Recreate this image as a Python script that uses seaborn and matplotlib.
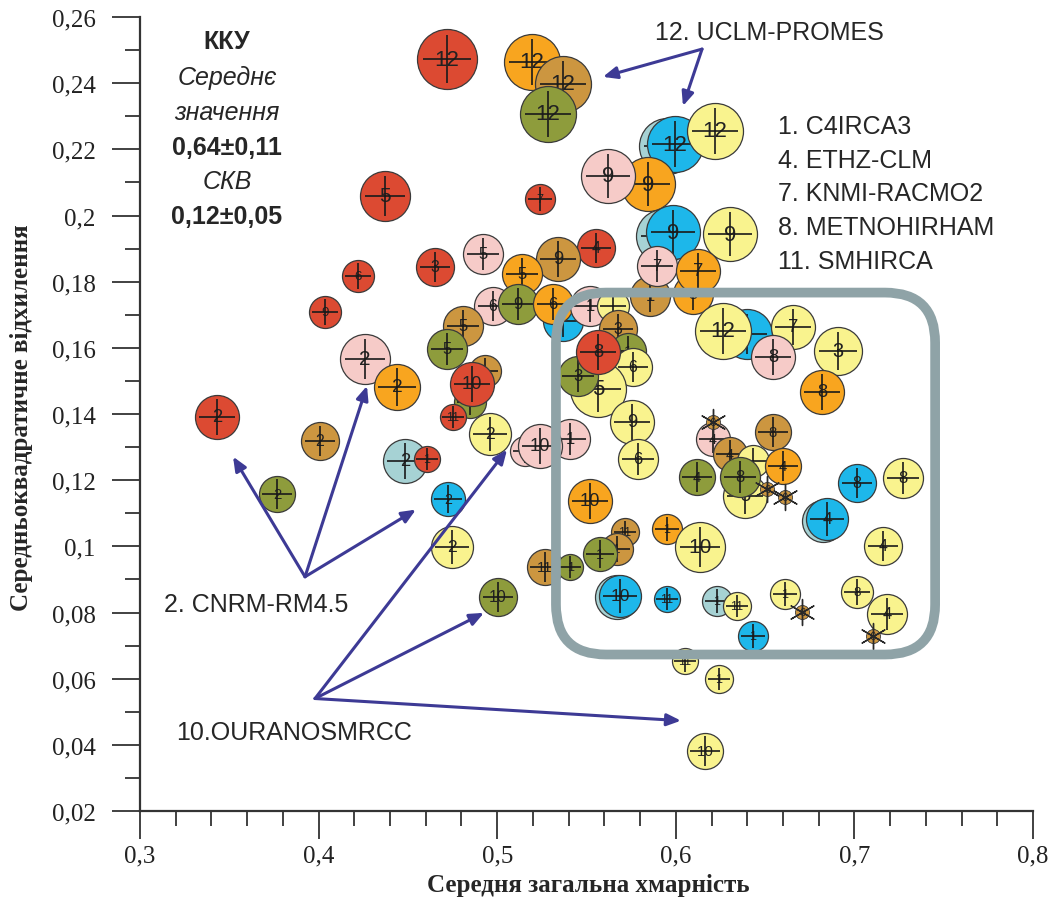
import matplotlib
matplotlib.use("Agg")
import matplotlib.pyplot as plt
from matplotlib.patches import FancyBboxPatch
from matplotlib.ticker import MultipleLocator, FuncFormatter
import pandas as pd
import seaborn as sns

# mean total cloudiness (x) vs RMS deviation (y); number = model id, colour = group
cloud = [0.4719, 0.5195, 0.5368, 0.5284, 0.5951, 0.5996, 0.6219, 0.5844, 0.5620,
         0.4372, 0.5240, 0.5928, 0.5984, 0.6303, 0.5553, 0.4920, 0.5340, 0.5139,
         0.4652, 0.4221, 0.4036, 0.5856, 0.6096, 0.5895, 0.6124, 0.5368, 0.4976,
         0.5116, 0.5312, 0.5520, 0.5648, 0.4808, 0.4719, 0.4260, 0.4439, 0.5676,
         0.5732, 0.5760, 0.5564, 0.5452, 0.5564, 0.4932, 0.4848, 0.4859, 0.4753,
         0.3431, 0.4008, 0.3767, 0.4484, 0.4607, 0.4960, 0.4725, 0.4747, 0.5004,
         0.5408, 0.5156, 0.5240, 0.6399, 0.6264, 0.6656, 0.6544, 0.6908, 0.6819,
         0.5755, 0.5788, 0.6208, 0.6303, 0.6432, 0.6544, 0.6600, 0.6119, 0.6387,
         0.6359, 0.5520, 0.7015, 0.7272, 0.6825, 0.6847, 0.7160, 0.5951, 0.5716,
         0.5671, 0.5576, 0.6135, 0.5268, 0.5408, 0.5671, 0.5688, 0.5951, 0.6231,
         0.6343, 0.6611, 0.7015, 0.7183, 0.6432, 0.6052, 0.6242, 0.6164]
rms = [0.2473, 0.2464, 0.2398, 0.2307, 0.2210, 0.2216, 0.2256, 0.2095, 0.2120,
       0.2059, 0.2050, 0.1938, 0.1950, 0.1944, 0.1902, 0.1884, 0.1869, 0.1824,
       0.1845, 0.1818, 0.1709, 0.1757, 0.1763, 0.1848, 0.1833, 0.1682, 0.1727,
       0.1733, 0.1733, 0.1727, 0.1727, 0.1667, 0.1597, 0.1567, 0.1482, 0.1657,
       0.1591, 0.1543, 0.1476, 0.1515, 0.1588, 0.1530, 0.1437, 0.1491, 0.1392,
       0.1392, 0.1319, 0.1159, 0.1259, 0.1265, 0.1340, 0.1144, 0.0999, 0.0848,
       0.1325, 0.1289, 0.1304, 0.1642, 0.1651, 0.1663, 0.1573, 0.1591, 0.1467,
       0.1376, 0.1265, 0.1325, 0.1280, 0.1259, 0.1346, 0.1244, 0.1210, 0.1153,
       0.1210, 0.1138, 0.1192, 0.1207, 0.1076, 0.1083, 0.1002, 0.1053, 0.1044,
       0.0993, 0.0978, 0.0999, 0.0938, 0.0938, 0.0846, 0.0851, 0.0842, 0.0836,
       0.0821, 0.0857, 0.0863, 0.0796, 0.0730, 0.0654, 0.0600, 0.0382]
model = ["12", "12", "12", "12", "", "12", "12", "9", "9",
         "5", "7", "", "9", "9", "4", "5", "9", "5",
         "3", "6", "9", "1", "5", "7", "7", "", "6",
         "9", "6", "1", "", "5", "5", "2", "2", "3",
         "1", "6", "5", "3", "8", "", "", "10", "11",
         "2", "2", "2", "2", "1", "2", "2", "2", "10",
         "1", "11", "10", "", "12", "7", "8", "3", "8",
         "9", "6", "4", "4", "", "8", "4", "4", "5",
         "8", "10", "8", "8", "", "4", "4", "1", "11",
         "1", "1", "10", "11", "1", "", "10", "11", "1",
         "11", "1", "8", "4", "1", "11", "1", "10"]
group = ["red", "orange", "tan", "olive", "teal", "cyan", "yellow", "orange", "pink",
         "red", "red", "teal", "cyan", "yellow", "red", "pink", "tan", "orange",
         "red", "red", "red", "tan", "orange", "pink", "orange", "cyan", "pink",
         "olive", "orange", "pink", "yellow", "tan", "olive", "pink", "orange", "tan",
         "olive", "yellow", "yellow", "olive", "red", "tan", "olive", "red", "red",
         "red", "tan", "olive", "teal", "red", "yellow", "cyan", "yellow", "olive",
         "pink", "pink", "pink", "cyan", "yellow", "yellow", "pink", "yellow", "orange",
         "yellow", "yellow", "pink", "tan", "yellow", "tan", "orange", "olive", "yellow",
         "olive", "orange", "cyan", "yellow", "teal", "cyan", "yellow", "orange", "tan",
         "tan", "olive", "yellow", "tan", "olive", "teal", "cyan", "cyan", "teal",
         "yellow", "yellow", "yellow", "yellow", "cyan", "yellow", "yellow", "yellow"]
bubble = [30, 28, 28, 28, 28, 28, 28, 27, 27,
          25, 15, 27, 27, 27, 19, 20, 22, 20,
          19, 16, 16, 20, 20, 20, 22, 20, 19,
          20, 20, 20, 16, 20, 20, 25, 23, 19,
          18, 19, 28, 20, 22, 16, 16, 22, 13,
          22, 19, 18, 22, 13, 21, 17, 21, 19,
          20, 15, 22, 25, 28, 22, 22, 24, 22,
          22, 20, 17, 17, 16, 18, 18, 18, 22,
          20, 22, 19, 20, 21, 21, 19, 15, 14,
          16, 17, 25, 18, 13, 22, 21, 13, 15,
          14, 15, 16, 20, 15, 13, 14, 18]

# small asterisk marks (no bubble)
star_cloud = [0.6208, 0.6511, 0.6611, 0.6707, 0.7104]
star_rms = [0.1376, 0.1174, 0.1150, 0.0802, 0.0730]
star_label = ["6", "6", "6", "6", "6"]

legend_models = ["1. C4IRCA3", "4. ETHZ-CLM", "7. KNMI-RACMO2",
                 "8. METNOHIRHAM", "11. SMHIRCA"]
info_lines = ["ККУ", "Середнє", "значення", "0,64±0,11", "СКВ", "0,12±0,05"]

palette = {"red": "#dc4a32", "orange": "#f8a51f", "tan": "#cc9640",
           "olive": "#8e9c3c", "pink": "#f6cbc8", "yellow": "#f9f38e",
           "cyan": "#1db7ea", "teal": "#a6d2d4"}

df = pd.DataFrame({"cloud": cloud, "rms": rms, "model": model,
                   "group": group, "r": bubble})

sns.set_theme(style="ticks")
plt.rcParams["font.family"] = ["Liberation Serif", "DejaVu Serif"]

fig = plt.figure(figsize=(10.53, 9.03), dpi=100)
ax = fig.add_axes([140 / 1053, 91 / 903, 893 / 1053, 794 / 903])

PT = 0.72  # points per pixel at dpi 100
for i, row in df.iterrows():
    z = 3 + i * 0.01
    area = (2 * row["r"] * PT) ** 2
    sns.scatterplot(x=[row["cloud"]], y=[row["rms"]], color=palette[row["group"]],
                    s=area, edgecolor="#3a3a3a", linewidth=0.9,
                    ax=ax, zorder=z, clip_on=False, legend=False)
    if row["model"]:
        fs = min(16, max(9, row["r"] * 0.6))
        ax.text(row["cloud"], row["rms"], row["model"], ha="center", va="center",
                fontsize=fs, family="Liberation Sans", color="#222222",
                zorder=z + 0.003)
    ax.scatter(row["cloud"], row["rms"], marker="+", s=area * 0.66,
               color="#1a1a1a", linewidths=1.2, zorder=z + 0.006, clip_on=False)

sns.scatterplot(x=star_cloud, y=star_rms, color=palette["tan"], s=(14 * PT) ** 2,
                edgecolor="#3a3a3a", linewidth=0.6, ax=ax, zorder=5, legend=False)
ax.scatter(star_cloud, star_rms, marker=(6, 2, 0), s=(26 * PT) ** 2,
           color="#2a2a2a", linewidths=1.0, zorder=5.1)
for sx, sy, sl in zip(star_cloud, star_rms, star_label):
    ax.text(sx, sy, sl, ha="center", va="center", fontsize=8,
            family="Liberation Sans", zorder=5.2)

# highlighted region
box = FancyBboxPatch((0.5329, 0.0673), 0.2123, 0.1094,
                     boxstyle="round,pad=0,rounding_size=0.028",
                     mutation_aspect=0.5396, fill=False, edgecolor="#8fa3a7",
                     linewidth=7, zorder=10)
ax.add_patch(box)

# annotations
sans = "Liberation Sans"
arrow = dict(arrowstyle="-|>,head_length=0.7,head_width=0.3", color="#3d3a95",
             lw=2.2, shrinkA=0, shrinkB=0)
ax.text(0.5884, 0.2555, "12. UCLM-PROMES", fontsize=18, family=sans,
        va="center", ha="left")
for tx, ty in [(0.5592, 0.2419), (0.6040, 0.2331)]:
    ax.annotate("", xy=(tx, ty), xytext=(0.6147, 0.2503), arrowprops=arrow, zorder=11)

ax.text(0.3134, 0.0827, "2. CNRM-RM4.5", fontsize=18, family=sans,
        va="center", ha="left")
for tx, ty in [(0.3521, 0.1271), (0.4271, 0.1485), (0.4545, 0.1111)]:
    ax.annotate("", xy=(tx, ty), xytext=(0.3924, 0.0908), arrowprops=arrow, zorder=11)

ax.text(0.3202, 0.0440, "10.OURANOSMRCC", fontsize=18, family=sans,
        va="center", ha="left")
for tx, ty in [(0.5055, 0.1292), (0.4926, 0.0799), (0.6029, 0.0473)]:
    ax.annotate("", xy=(tx, ty), xytext=(0.3980, 0.0540), arrowprops=arrow, zorder=11)

for k, line in enumerate(legend_models):
    ax.text(0.6572, 0.2271 - k * 0.0102, line, fontsize=18, family=sans,
            va="center", ha="left")

info_y = [0.2527, 0.2419, 0.2313, 0.2207, 0.2105, 0.1999]
info_style = ["bold", "italic", "italic", "bold", "italic", "bold"]
for line, yy, st in zip(info_lines, info_y, info_style):
    ax.text(0.3487, yy, line, fontsize=18, family=sans, ha="center", va="center",
            fontweight="bold" if st == "bold" else "normal",
            fontstyle="italic" if st == "italic" else "normal")

# axes
ax.set_xlim(0.3, 0.8)
ax.set_ylim(0.02, 0.26)
ax.xaxis.set_major_locator(MultipleLocator(0.1))
ax.xaxis.set_minor_locator(MultipleLocator(0.02))
ax.yaxis.set_major_locator(MultipleLocator(0.02))
ax.yaxis.set_minor_locator(MultipleLocator(0.01))


def comma(v, pos):
    return f"{v:.2f}".rstrip("0").rstrip(".").replace(".", ",")


ax.xaxis.set_major_formatter(FuncFormatter(comma))
ax.yaxis.set_major_formatter(FuncFormatter(comma))
ax.tick_params(which="major", length=20, width=1.3, color="#333333",
               labelsize=18, labelcolor="#222222")
ax.tick_params(which="minor", length=10.5, width=1.3, color="#333333")
ax.tick_params(axis="y", which="major", pad=12)
ax.tick_params(axis="x", which="major", pad=4)
sns.despine(ax=ax)
for side in ["left", "bottom"]:
    ax.spines[side].set_linewidth(1.6)
    ax.spines[side].set_color("#333333")

ax.set_xlabel("Середня загальна хмарність", fontsize=18, fontweight="bold")
ax.set_ylabel("Середньоквадратичне відхилення", fontsize=18, fontweight="bold")
ax.xaxis.set_label_coords(0.5017, -0.078)
ax.yaxis.set_label_coords(-0.12, 0.496)

fig.savefig("out.png", dpi=100)
